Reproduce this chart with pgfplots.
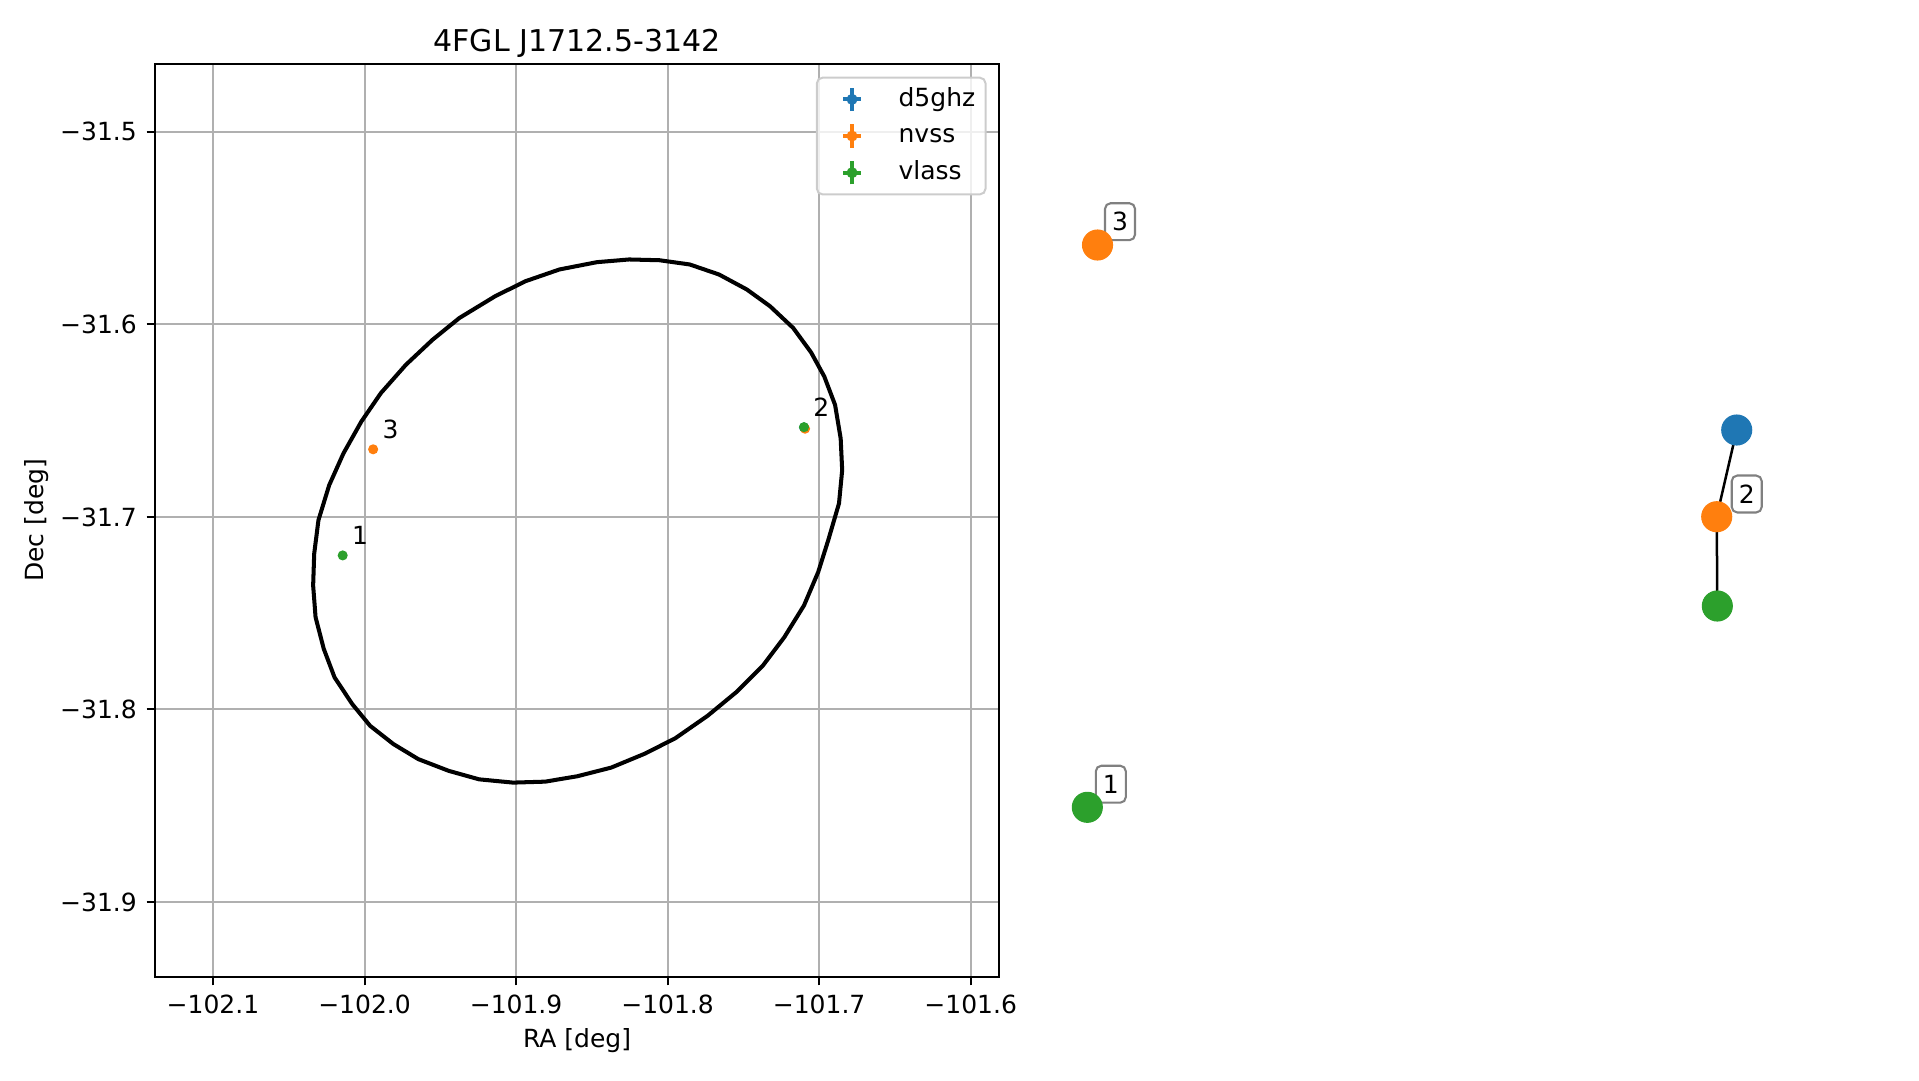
\documentclass[border=0pt]{standalone}
\usepackage{fontspec}
\setmainfont{DejaVu Sans}
\usepackage{pgfplots}
\pgfplotsset{compat=1.18}
\definecolor{tabblue}{HTML}{1F77B4}
\definecolor{taborange}{HTML}{FF7F0E}
\definecolor{tabgreen}{HTML}{2CA02C}
\definecolor{gridgray}{HTML}{B0B0B0}
\definecolor{legendgray}{HTML}{CCCCCC}

\pgfplotsset{
  errleg/.style={legend image code/.code={
    \path (0pt,0pt) (16pt,0pt);
    \draw[line width=1.35pt] (7.1pt,0pt)--(13.5pt,0pt) (10.3pt,-4.2pt)--(10.3pt,4.2pt);
    \fill[fill opacity=1] (10.3pt,0pt) circle (1.6pt);}},
}
\tikzset{lbl/.style={draw=gray, line width=0.75pt, rounded corners=2pt, fill=white,
    inner sep=0pt, minimum width=10.8pt, minimum height=13.3pt}}

\begin{document}
\begin{tikzpicture}[font=\fontsize{9}{11}\selectfont]
\useasboundingbox (0,0) rectangle (690.84pt,388.8pt);

% main panel: sky positions
\begin{axis}[
  at={(55.94pt,37.19pt)}, anchor=south west,
  scale only axis, width=303.6pt, height=328.7pt,
  xmin=-102.138, xmax=-101.5815, ymin=-31.9388, ymax=-31.4646,
  xtick={-102.1,-102.0,-101.9,-101.8,-101.7,-101.6},
  xticklabels={−102.1,−102.0,−101.9,−101.8,−101.7,−101.6},
  ytick={-31.9,-31.8,-31.7,-31.6,-31.5},
  yticklabels={−31.9,−31.8,−31.7,−31.6,−31.5},
  xtick pos=bottom, ytick pos=left,
  grid=major, grid style={gridgray, line width=0.72pt},
  tick align=outside, major tick length=3.15pt,
  tick style={black, line width=0.72pt},
  axis line style={line width=0.72pt},
  title={4FGL J1712.5-3142},
  title style={at={(axis description cs:0.5,1)}, anchor=base, yshift=-1.5pt,
    font=\fontsize{10.8}{13}\selectfont},
  xlabel={RA [deg]},
  xlabel style={at={(axis description cs:0.5,0)}, anchor=base, yshift=-25.5pt},
  ylabel={Dec [deg]},
  ylabel style={at={([xshift=-42.7pt]axis description cs:0,0.5)}, anchor=center},
  legend style={at={(axis description cs:1,1)}, anchor=north east,
    xshift=-4.4pt, yshift=-4.7pt, draw=legendgray, line width=0.72pt,
    rounded corners=2pt, fill=white, fill opacity=0.8, text opacity=1,
    draw opacity=1, inner xsep=2pt, inner ysep=1.2pt,
    nodes={inner xsep=1.7pt, inner ysep=1.6pt, text height=7.5pt, text depth=2.5pt},
    /tikz/every odd column/.append style={column sep=9pt}},
  legend cell align=left,
]
\addplot[black, line width=1.45pt, forget plot] coordinates {
(-101.8254,-31.5663) (-101.8054,-31.5667) (-101.7854,-31.5689) (-101.7661,-31.5741)
(-101.7477,-31.5819) (-101.7324,-31.5906) (-101.7171,-31.6019) (-101.7053,-31.6146)
(-101.6966,-31.6271) (-101.6895,-31.6418) (-101.6858,-31.6592) (-101.6848,-31.6757)
(-101.6869,-31.6930) (-101.6940,-31.7121) (-101.7006,-31.7286) (-101.7100,-31.7460)
(-101.7230,-31.7625) (-101.7371,-31.7772) (-101.7548,-31.7911) (-101.7736,-31.8033)
(-101.7948,-31.8149) (-101.8148,-31.8229) (-101.8372,-31.8302) (-101.8596,-31.8347)
(-101.8808,-31.8375) (-101.9020,-31.8380) (-101.9244,-31.8363) (-101.9444,-31.8319)
(-101.9645,-31.8258) (-101.9809,-31.8180) (-101.9963,-31.8085) (-102.0081,-31.7972)
(-102.0198,-31.7833) (-102.0269,-31.7685) (-102.0323,-31.7521) (-102.0339,-31.7356)
(-102.0332,-31.7191) (-102.0304,-31.7017) (-102.0233,-31.6835) (-102.0139,-31.6670)
(-102.0021,-31.6505) (-101.9892,-31.6357) (-101.9727,-31.6210) (-101.9551,-31.6080)
(-101.9374,-31.5967) (-101.9138,-31.5854) (-101.8938,-31.5776) (-101.8714,-31.5715)
(-101.8466,-31.5677) (-101.8254,-31.5663)};
\addplot[only marks, mark=*, mark size=1.6pt, tabblue, errleg] coordinates {(-101.7100,-31.6535)};
\addlegendentry{d5ghz}
\addplot[only marks, mark=*, mark size=1.6pt, taborange, errleg] coordinates {(-101.9943,-31.6649) (-101.7093,-31.6542)};
\addlegendentry{nvss}
\addplot[only marks, mark=*, mark size=1.6pt, tabgreen, errleg] coordinates {(-102.0144,-31.7200) (-101.7100,-31.6534)};
\addlegendentry{vlass}
\node[anchor=base west, inner sep=0pt, xshift=3.2pt, yshift=3.8pt] at (axis cs:-102.0144,-31.7200) {1};
\node[anchor=base west, inner sep=0pt, xshift=3.2pt, yshift=3.8pt] at (axis cs:-101.7100,-31.6534) {2};
\node[anchor=base west, inner sep=0pt, xshift=3.2pt, yshift=3.8pt] at (axis cs:-101.9943,-31.6649) {3};
\end{axis}

% right panel: match graph (hidden axes, figure pixel units)
\begin{axis}[
  at={(0pt,0pt)}, anchor=south west,
  scale only axis, width=690.84pt, height=388.8pt,
  xmin=0, xmax=1919, ymin=0, ymax=1080, y dir=reverse,
  hide axis, clip=false,
]
\addplot[black, line width=0.9pt] coordinates {(1736.7,430) (1716.7,516.7) (1717.3,606)};
\addplot[only marks, mark=*, mark size=5.4pt, tabblue] coordinates {(1736.7,430)};
\addplot[only marks, mark=*, mark size=5.4pt, taborange] coordinates {(1097.5,245) (1716.7,516.7)};
\addplot[only marks, mark=*, mark size=5.4pt, tabgreen] coordinates {(1087.3,807.3) (1717.3,606)};
\node[lbl] at (axis cs:1120,221.7) {3};
\node[lbl] at (axis cs:1746.7,494) {2};
\node[lbl] at (axis cs:1110.8,784.2) {1};
\end{axis}
\end{tikzpicture}
\end{document}
